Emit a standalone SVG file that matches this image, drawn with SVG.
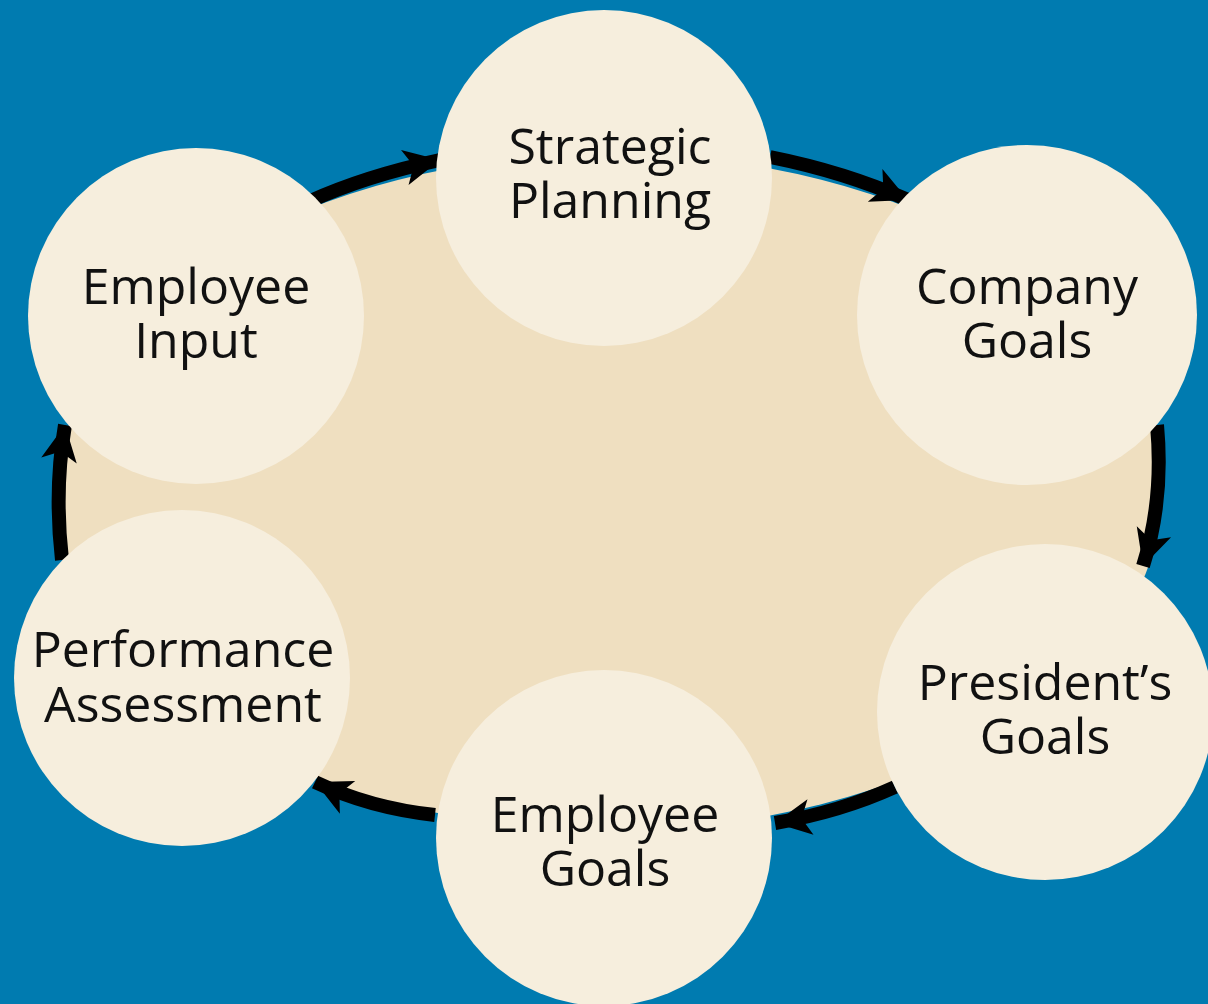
<svg xmlns="http://www.w3.org/2000/svg" width="1208" height="1004" viewBox="0 0 1208 1004">
  <style>
    .node circle { fill: #F6EEDD; }
    .node text { font-family: "Open Sans", "Noto Sans", sans-serif; font-size: 50px; fill: #111; text-anchor: middle; }
    .conn path { fill: none; stroke: #000; stroke-width: 14; marker-end: url(#head); }
  </style>
  <defs>
    <marker id="head" markerUnits="userSpaceOnUse" markerWidth="44" markerHeight="44" viewBox="0 0 44 44" refX="38" refY="22" orient="auto">
      <path d="M2,4 L38,22 L2,40 L11,22 Z" fill="#000"/>
    </marker>
  </defs>

  <!-- backdrop -->
  <rect width="1208" height="1004" fill="#007BB0"/>
  <ellipse cx="610" cy="492" rx="552" ry="338" fill="#EFDFC0"/>

  <!-- cycle arrows -->
  <g class="conn">
    <path d="M308,202 Q365,176 440,160"/>
    <path d="M770,157 Q845,172 908,200"/>
    <path d="M1157,425 Q1164,500 1143,566"/>
    <path d="M895,787 Q840,812 775,823"/>
    <path d="M435,815 Q370,808 315,782"/>
    <path d="M62,560 Q54,490 65,425"/>
  </g>

  <g id="strategic-planning" class="node">
    <circle cx="604" cy="178" r="168"/>
    <text x="610" y="164">Strategic<tspan x="610" dy="54">Planning</tspan></text>
  </g>
  <g id="company-goals" class="node">
    <circle cx="1027" cy="315" r="170"/>
    <text x="1027" y="304">Company<tspan x="1027" dy="54">Goals</tspan></text>
  </g>
  <g id="presidents-goals" class="node">
    <circle cx="1045" cy="712" r="168"/>
    <text x="1045" y="700">President’s<tspan x="1045" dy="54">Goals</tspan></text>
  </g>
  <g id="employee-goals" class="node">
    <circle cx="604" cy="838" r="168"/>
    <text x="605" y="832">Employee<tspan x="605" dy="54">Goals</tspan></text>
  </g>
  <g id="performance-assessment" class="node">
    <circle cx="182" cy="678" r="168"/>
    <text x="183" y="667">Performance<tspan x="183" dy="55">Assessment</tspan></text>
  </g>
  <g id="employee-input" class="node">
    <circle cx="196" cy="316" r="168"/>
    <text x="196" y="304">Employee<tspan x="196" dy="54">Input</tspan></text>
  </g>
</svg>
